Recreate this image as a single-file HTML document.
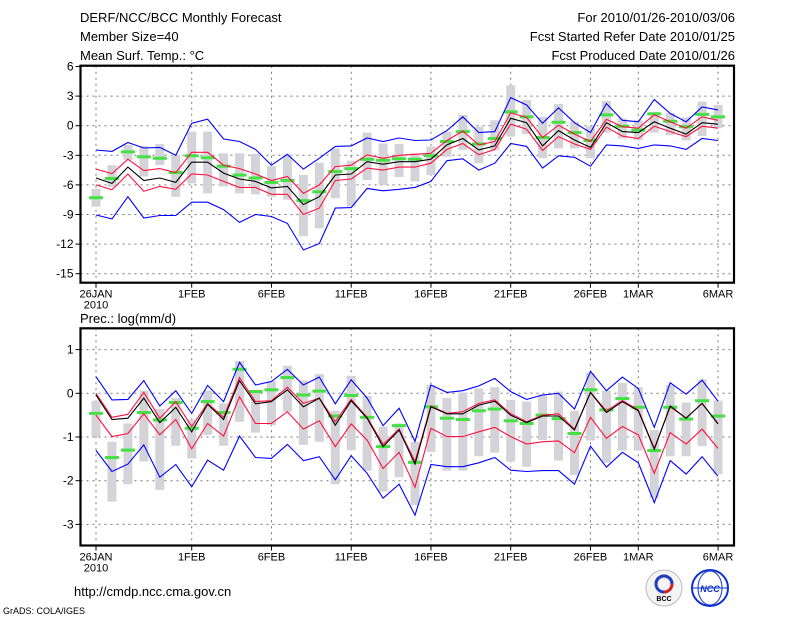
<!DOCTYPE html>
<html><head><meta charset="utf-8"><style>
body{margin:0;background:#fff;}
svg{display:block;font-family:"Liberation Sans",sans-serif;}
</style></head><body>
<svg id="chart" width="800" height="618" viewBox="0 0 800 618">
<text x="80" y="22" font-size="13">DERF/NCC/BCC Monthly Forecast</text>
<text x="80" y="41" font-size="13">Member Size=40</text>
<text x="80" y="60" font-size="13">Mean Surf. Temp.: °C</text>
<text x="735" y="22" font-size="13" text-anchor="end">For 2010/01/26-2010/03/06</text>
<text x="735" y="41" font-size="13" text-anchor="end">Fcst Started Refer Date 2010/01/25</text>
<text x="735" y="60" font-size="13" text-anchor="end">Fcst Produced Date 2010/01/26</text>
<text x="80" y="323" font-size="13">Prec.: log(mm/d)</text>
<text x="74" y="596" font-size="13">http://cmdp.ncc.cma.gov.cn</text>
<text x="3" y="614" font-size="9">GrADS: COLA/IGES</text>
<g>
<circle cx="664" cy="588" r="18" fill="#f4f4f4" stroke="#bbb"/>
<path d="M656 584 a8 8 0 1 1 8 8" fill="none" stroke="#d02020" stroke-width="3"/>
<path d="M672 584 a8 8 0 1 0 -8 8" fill="none" stroke="#2040c0" stroke-width="3"/>
<text x="664" y="601" font-size="7" text-anchor="middle" font-weight="bold">BCC</text>
</g>
<g>
<circle cx="710" cy="588" r="18" fill="#fff" stroke="#1030d0" stroke-width="2"/>
<ellipse cx="710" cy="588" rx="12" ry="17" fill="none" stroke="#1030d0"/>
<line x1="692" y1="588" x2="728" y2="588" stroke="#1030d0"/>
<text x="710" y="592" font-size="9" text-anchor="middle" fill="#1030d0" font-style="italic" font-weight="bold">NCC</text>
</g>
</svg>
<script>
const days = [0,1,2,3,4,5,6,7,8,9,10,11,12,13,14,15,16,17,18,19,20,21,22,23,24,25,26,27,28,29,30,31,32,33,34,35,36,37,38,39];
const xTickDays = [0,6,11,16,21,26,31,34,39];
const xTickLabels = ["26JAN","1FEB","6FEB","11FEB","16FEB","21FEB","26FEB","1MAR","6MAR"];
const tTicks = [6,3,0,-3,-6,-9,-12,-15];
const pTicks = [1,0,-1,-2,-3];
// Temperature panel
const tBlueHi = [-2.46,-2.6,-1.7,-2.26,-2.2,-3.0,0.24,0.67,-1.35,-1.6,-2.4,-4.0,-2.9,-4.4,-3.3,-2.1,-2.05,-1.25,-1.6,-1.25,-1.5,-1.45,-0.5,0.9,-0.7,-0.6,2.85,2.1,0.25,1.8,0.3,-0.7,2.25,0.55,0.4,2.65,1.25,0.4,1.9,1.6];
const tRedHi = [-4.4,-4.85,-3.4,-4.55,-4.35,-4.75,-2.7,-2.7,-4.0,-4.35,-4.9,-5.55,-5.15,-6.85,-6.0,-4.15,-4.0,-2.95,-3.3,-3.0,-2.9,-2.8,-1.5,-0.55,-1.95,-1.6,1.3,0.85,-1.2,0.05,-0.85,-1.6,0.65,-0.1,-0.25,1.1,0.4,-0.25,0.9,0.55];
const tMean = [-5.3,-5.85,-4.2,-5.55,-5.3,-5.75,-3.7,-3.7,-4.8,-5.4,-5.65,-6.3,-6.15,-8.0,-7.2,-5.0,-4.9,-3.65,-3.9,-3.65,-3.65,-3.4,-1.95,-1.3,-2.45,-2.05,0.75,0.3,-2.05,-0.5,-1.45,-2.2,0.3,-0.6,-0.7,0.4,-0.25,-0.85,0.3,0.15];
const tRedLo = [-6.0,-6.5,-4.9,-6.65,-6.15,-6.45,-4.9,-5.0,-5.65,-6.25,-6.25,-6.95,-6.95,-9.0,-8.35,-5.55,-5.4,-4.3,-4.5,-4.2,-4.2,-3.8,-2.4,-1.8,-2.95,-2.4,0.15,-0.35,-2.5,-1.1,-1.85,-2.4,-0.15,-1.05,-1.3,-0.05,-0.6,-1.1,-0.05,-0.25];
const tBlueLo = [-9.05,-9.45,-7.2,-9.35,-9.1,-9.1,-7.75,-7.75,-8.5,-9.8,-9.0,-9.2,-9.9,-12.6,-11.95,-8.35,-8.3,-6.35,-6.6,-6.45,-6.25,-5.65,-3.55,-3.35,-4.5,-3.8,-1.8,-2.1,-4.3,-3.05,-3.2,-4.1,-1.95,-2.05,-2.3,-1.95,-2.05,-2.4,-1.3,-1.5];
const tGreen = [-7.3,-5.35,-2.65,-3.15,-3.3,-4.75,-3.05,-3.25,-4.1,-5.0,-5.3,-5.75,-5.55,-7.6,-6.7,-4.65,-4.35,-3.4,-3.5,-3.35,-3.4,-3.05,-1.6,-0.6,-1.85,-1.3,1.4,0.9,-1.2,0.35,-0.7,-1.5,1.1,-0.05,-0.45,1.2,0.45,-0.1,1.15,0.9];
const tGrayTop = [-6.4,-4.0,-1.95,-2.05,-1.85,-2.95,-0.6,-0.6,-2.8,-2.8,-2.85,-4.1,-2.95,-5.0,-3.75,-2.3,-3.55,-0.7,-1.8,-1.85,-2.8,-2.1,-0.6,1.1,-0.1,0.55,4.1,2.6,0.9,2.2,0.4,-0.05,2.5,0.75,0.55,1.4,1.3,0.85,2.45,2.1];
const tGrayBot = [-8.2,-6.2,-3.45,-5.15,-4.0,-7.2,-5.85,-6.85,-6.15,-6.85,-6.95,-7.2,-7.5,-11.2,-10.4,-7.35,-8.2,-5.5,-6.0,-5.2,-5.65,-5.0,-3.15,-2.45,-3.8,-2.5,-1.1,-0.85,-3.3,-2.3,-2.3,-3.3,-0.7,-1.3,-1.45,-0.7,-0.95,-1.5,-1.05,-0.25];
// Precipitation panel
const pBlueHi = [0.38,-0.15,-0.14,0.29,-0.29,0.06,-0.46,0.18,-0.19,0.71,0.19,0.27,0.55,0.19,0.37,-0.24,0.31,-0.11,-0.74,-0.34,-1.1,0.19,0.02,0.06,0.17,0.34,0.04,-0.14,-0.04,0.0,-0.36,0.5,0.06,0.37,0.11,-0.78,0.24,-0.02,0.3,-0.18];
const pRedHi = [0.0,-0.55,-0.48,0.02,-0.57,-0.19,-0.76,-0.23,-0.55,0.36,-0.19,-0.17,0.14,-0.23,-0.11,-0.65,-0.14,-0.55,-1.17,-0.82,-1.56,-0.29,-0.46,-0.42,-0.23,-0.15,-0.47,-0.65,-0.5,-0.47,-0.82,0.02,-0.4,-0.17,-0.38,-1.26,-0.31,-0.57,-0.23,-0.69];
const pMean = [-0.04,-0.6,-0.57,-0.11,-0.67,-0.32,-0.88,-0.25,-0.6,0.29,-0.24,-0.19,0.08,-0.31,-0.11,-0.73,-0.17,-0.57,-1.22,-0.84,-1.62,-0.31,-0.47,-0.47,-0.27,-0.18,-0.5,-0.67,-0.52,-0.52,-0.84,0.02,-0.44,-0.19,-0.4,-1.28,-0.29,-0.57,-0.23,-0.7];
const pRedLo = [-0.5,-0.99,-0.92,-0.47,-0.95,-0.6,-1.27,-0.69,-0.98,-0.08,-0.69,-0.69,-0.42,-0.82,-0.63,-1.22,-0.7,-1.07,-1.72,-1.35,-2.15,-0.8,-0.99,-0.99,-0.88,-0.78,-0.99,-1.16,-1.11,-1.09,-1.36,-0.55,-1.03,-0.76,-0.95,-1.83,-0.9,-1.16,-0.82,-1.26];
const pBlueLo = [-1.31,-1.79,-1.62,-1.18,-1.92,-1.63,-2.14,-1.53,-1.76,-0.98,-1.47,-1.49,-1.17,-1.54,-1.45,-1.98,-1.43,-1.83,-2.4,-2.08,-2.79,-1.63,-1.68,-1.68,-1.59,-1.47,-1.76,-1.79,-1.77,-1.77,-2.08,-1.21,-1.69,-1.35,-1.59,-2.5,-1.54,-1.85,-1.45,-1.9];
const pGreen = [-0.46,-1.47,-1.3,-0.44,-0.61,-0.21,-0.8,-0.19,-0.44,0.55,0.04,0.08,0.36,-0.04,0.05,-0.52,-0.05,-0.55,-1.22,-0.74,-1.58,-0.31,-0.57,-0.6,-0.4,-0.36,-0.63,-0.69,-0.5,-0.58,-0.92,0.08,-0.38,-0.12,-0.32,-1.31,-0.32,-0.59,-0.17,-0.52];
const pGrayTop = [-0.17,-1.11,-0.69,0.06,-0.36,-0.11,-0.6,0.06,-0.23,0.74,0.08,0.28,0.63,0.29,0.44,-0.4,0.4,-0.06,-0.76,-0.69,-1.11,0.19,-0.11,0.02,0.11,0.14,-0.15,-0.19,-0.02,0.04,-0.4,0.47,0.06,0.24,0.14,-0.84,0.19,-0.21,0.32,-0.17];
const pGrayBot = [-0.99,-2.48,-2.08,-1.56,-2.21,-1.2,-1.49,-0.95,-1.2,-0.65,-0.9,-0.73,-0.42,-1.18,-1.11,-2.08,-1.3,-1.77,-2.25,-1.92,-2.56,-1.34,-1.77,-1.77,-1.44,-1.36,-1.56,-1.68,-1.07,-1.54,-1.87,-1.08,-1.59,-1.31,-1.31,-2.4,-1.44,-1.44,-1.21,-1.85];

const NS = "http://www.w3.org/2000/svg";
const svg = document.getElementById("chart");
const X0 = 80.5, X1 = 734;
function xd(d){ return 96 + 15.95 * d; }
function yT(v){ return 125.7 - v * 9.867; }
function yP(v){ return 393.3 - v * 43.7; }
function mk(tag, attrs, parent){
  const e = document.createElementNS(NS, tag);
  for (const k in attrs) e.setAttribute(k, attrs[k]);
  (parent || svg).appendChild(e);
  return e;
}
function panel(name, top, bottom, yf, ticks, gTop, gBot, green, bHi, rHi, mean, rLo, bLo, showYear){
  const g = mk("g", {});
  
  
  // grid
  ticks.forEach(function(t){
    const y = yf(t);
    const gl = mk("line", {x1:X0, x2:X1, y1:y, y2:y, stroke:"#777", "stroke-dasharray":"2,4", "stroke-width":1}, g);
    
    
    mk("line", {x1:X0-5, x2:X0, y1:y, y2:y, stroke:"#000"}, g);
    const tx = mk("text", {x:X0-7, y:y+4, "font-size":12, "text-anchor":"end"}, g);
    tx.textContent = t;
    
    
  });
  xTickDays.forEach(function(d, i){
    const x = xd(d);
    const gl = mk("line", {x1:x, x2:x, y1:top, y2:bottom, stroke:"#777", "stroke-dasharray":"2,4"}, g);
    
    
    mk("line", {x1:x, x2:x, y1:bottom, y2:bottom+5, stroke:"#000"}, g);
    const tx = mk("text", {x:x, y:bottom+15, "font-size":11, "text-anchor":"middle"}, g);
    tx.textContent = xTickLabels[i];
    
    
  });
  const yr = mk("text", {x:xd(0), y:bottom+26, "font-size":11, "text-anchor":"middle"}, g);
  yr.textContent = "2010";
  
  
  // gray bars
  days.forEach(function(d, i){
    const y1 = yf(gTop[i]), y2 = yf(gBot[i]);
    const r = mk("rect", {x:xd(d)-4.5, y:y1, width:9, height:y2-y1, fill:"#d4d4d8"}, g);
    
    
  });
  days.forEach(function(d, i){
    const r = mk("rect", {x:xd(d)-7, y:yf(green[i])-1.5, width:14, height:3, fill:"#44e044"}, g);
    
    
  });
  const series = [[bHi,"#0000ff","upper-bound"],[bLo,"#0000ff","lower-bound"],[rHi,"#ff1040","upper-quartile"],[rLo,"#ff1040","lower-quartile"],[mean,"#000","ensemble-mean"]];
  series.forEach(function(s){
    const pts = days.map(function(d, i){ return xd(d).toFixed(1) + "," + yf(s[0][i]).toFixed(1); }).join(" ");
    const pl = mk("polyline", {points:pts, fill:"none", stroke:s[1], "stroke-width":1.1}, g);
    
    
  });
  const box = mk("rect", {x:X0, y:top, width:X1-X0, height:bottom-top, fill:"none", stroke:"#000", "stroke-width":2.2}, g);
  
  
}
panel("temperature", 65.7, 282.7, yT, tTicks, tGrayTop, tGrayBot, tGreen, tBlueHi, tRedHi, tMean, tRedLo, tBlueLo);
panel("precipitation", 328.3, 545.5, yP, pTicks, pGrayTop, pGrayBot, pGreen, pBlueHi, pRedHi, pMean, pRedLo, pBlueLo);
</script>
</body></html>
